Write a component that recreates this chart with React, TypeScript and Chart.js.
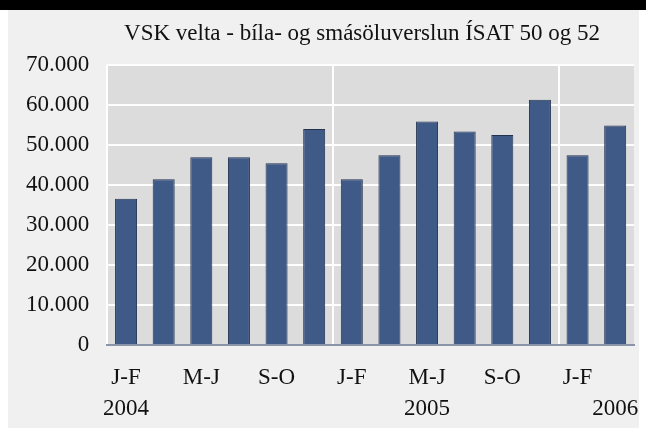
import React, { useEffect, useRef } from "react";
import { Chart, registerables } from "chart.js";

Chart.register(...registerables);

const periodLabels = ["J-F", "M-A", "M-J", "J-Á", "S-O", "N-D", "J-F", "M-A", "M-J", "J-Á", "S-O", "N-D", "J-F", "M-A"];
const yearLabels = ["2004", "", "", "", "", "", "", "", "2005", "", "", "", "", "2006"];
const vskValues = [36500, 41400, 46900, 46900, 45400, 53900, 41400, 47400, 55800, 53300, 52400, 61200, 47400, 54800];
const yearBoundaryIndices = [0, 6, 12];
const titleText = "VSK velta - bíla- og smásöluverslun ÍSAT 50 og 52";

const FONT = "'Liberation Serif', 'Times New Roman', serif";

function fmt(v: number): string {
  return String(Math.round(v)).replace(/\B(?=(\d{3})+(?!\d))/g, ".");
}

const plotBg = {
  id: "plotBg",
  beforeDraw(chart: any) {
    const { ctx, chartArea } = chart;
    ctx.save();
    ctx.fillStyle = "#dcdcdc";
    ctx.fillRect(chartArea.left, chartArea.top, chartArea.right - chartArea.left, chartArea.bottom - chartArea.top);
    ctx.restore();
  },
};

export default function App() {
  const ref = useRef<HTMLCanvasElement | null>(null);
  useEffect(() => {
    if (!ref.current) return;
    const chart = new Chart(ref.current, {
      type: "bar",
      data: {
        labels: periodLabels,
        datasets: [
          {
            data: vskValues,
            backgroundColor: "#405a87",
            borderColor: "#22324f",
            borderWidth: 1,
            categoryPercentage: 1,
            barPercentage: 0.585,
          },
        ],
      },
      options: {
        responsive: false,
        animation: false,
        layout: { padding: { left: 0, right: 5, top: 0, bottom: 4 } },
        plugins: {
          legend: { display: false },
          tooltip: { enabled: false },
          title: {
            display: true,
            text: titleText + "   ",
            fullSize: false,
            color: "#111",
            font: { family: FONT, size: 23, weight: "normal" },
            padding: { top: 10, bottom: 17 },
          },
        },
        scales: {
          x: {
            offset: true,
            grid: {
              offset: true,
              drawTicks: true,
              tickLength: 17,
              tickColor: "rgba(0,0,0,0)",
              lineWidth: 2,
              color: (c: any) => (yearBoundaryIndices.includes(c.index) ? "#ffffff" : "rgba(0,0,0,0)"),
            },
            border: { display: true, color: "#8a96a8", width: 2 },
            ticks: {
              autoSkip: false,
              maxRotation: 0,
              padding: 0,
              color: "#111",
              font: { family: FONT, size: 23, lineHeight: 1.348 },
              callback: (_v: any, i: number) => [i % 2 === 0 ? periodLabels[i] : "", yearLabels[i]],
            },
          },
          y: {
            min: 0,
            max: 70000,
            grid: {
              drawTicks: false,
              lineWidth: 2,
              color: (c: any) => (c.tick && c.tick.value === 0 ? "rgba(0,0,0,0)" : "#ffffff"),
            },
            border: { display: false },
            ticks: {
              stepSize: 10000,
              padding: 18,
              color: "#111",
              font: { family: FONT, size: 23 },
              callback: (v: any) => fmt(Number(v)),
            },
          },
        },
      },
      plugins: [plotBg],
    });
    return () => chart.destroy();
  }, []);

  return (
    <div style={{ position: "absolute", left: 0, top: 0, width: 646, height: 428, background: "#ffffff", overflow: "hidden" }}>
      <div style={{ position: "absolute", left: 0, top: 0, width: 646, height: 10, background: "#000000" }} />
      <div style={{ position: "absolute", left: 8, top: 10, width: 631, height: 418, background: "#f0f0f0" }}>
        <canvas ref={ref} width={631} height={418} style={{ display: "block", width: 631, height: 418 }} />
      </div>
    </div>
  );
}
